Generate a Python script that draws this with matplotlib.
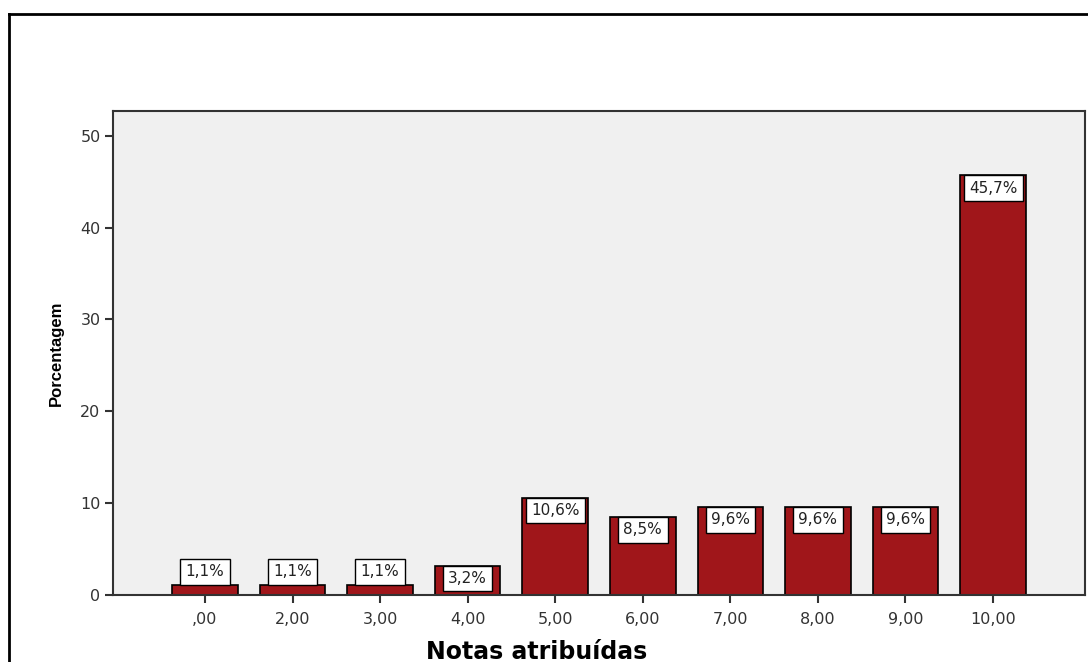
import matplotlib
matplotlib.use("Agg")
import matplotlib.pyplot as plt
from matplotlib.lines import Line2D
import numpy as np

notas = [",00", "2,00", "3,00", "4,00", "5,00", "6,00", "7,00", "8,00", "9,00", "10,00"]
porcentagem = [1.1, 1.1, 1.1, 3.2, 10.6, 8.5, 9.6, 9.6, 9.6, 45.7]
rotulos = ["1,1%", "1,1%", "1,1%", "3,2%", "10,6%", "8,5%", "9,6%", "9,6%", "9,6%", "45,7%"]

fig = plt.figure(figsize=(10.88, 6.62), dpi=100)
fig.patch.set_facecolor("white")

# outer frame (left and top edges only)
fig.add_artist(Line2D([9 / 1088, 9 / 1088], [0, 1 - 14 / 662], color="black", lw=2))
fig.add_artist(Line2D([9 / 1088, 1], [1 - 14 / 662, 1 - 14 / 662], color="black", lw=2))

ax = fig.add_axes([113 / 1088, 1 - 595 / 662, 972 / 1088, 484 / 662])
ax.set_facecolor("#f0f0f0")

x = np.arange(len(notas))
ax.bar(x, porcentagem, width=0.75, color="#a0161a", edgecolor="black", linewidth=1.2, zorder=2)

ax.set_xlim(-1.05, len(notas) - 1 + 1.05)
ax.set_ylim(0, 52.7)
ax.set_yticks([0, 10, 20, 30, 40, 50])
ax.set_xticks(x)
ax.set_xticklabels(notas)

for s in ax.spines.values():
    s.set_color("#333333")
    s.set_linewidth(1.5)

ax.tick_params(axis="both", colors="#333333", labelcolor="#333333", length=6, width=1.5,
               labelsize=11.5)
ax.tick_params(axis="x", pad=6)
ax.tick_params(axis="y", pad=3)

# value labels: box hangs from the bar top, or sits on it when the bar is too short
box = dict(boxstyle="square,pad=0.35", fc="white", ec="black", lw=1)
for xi, val, txt in zip(x, porcentagem, rotulos):
    if val < 2:
        ax.annotate(txt, (xi, val), xytext=(0, 3.9), textcoords="offset points",
                    ha="center", va="bottom", fontsize=11, color="#222222",
                    bbox=box, zorder=3)
    else:
        ax.annotate(txt, (xi, val), xytext=(0, -3.9), textcoords="offset points",
                    ha="center", va="top", fontsize=11, color="#222222",
                    bbox=box, zorder=3)

ax.set_ylabel("Porcentagem", fontsize=12, fontweight="bold", family="Liberation Sans",
              labelpad=12)

fig.text(537 / 1088, 1 - 659 / 662, "Notas atribuídas", ha="center", va="baseline",
         fontsize=17, fontweight="bold", color="black")

fig.savefig("out.png", dpi=100)
